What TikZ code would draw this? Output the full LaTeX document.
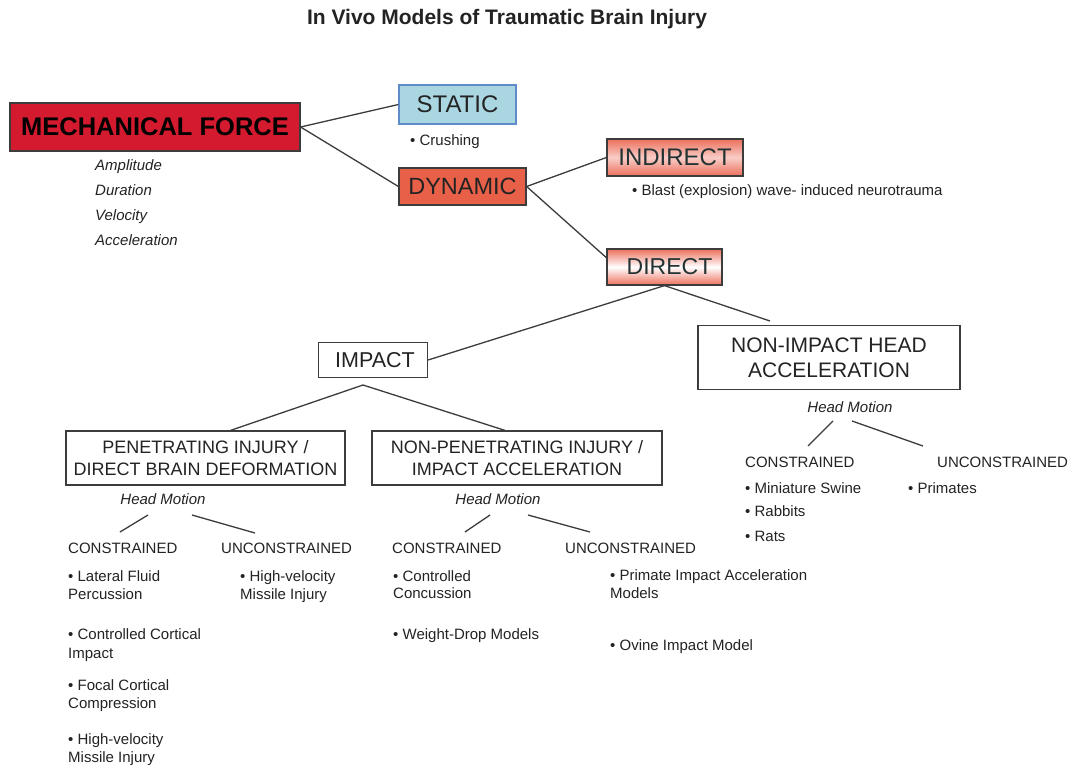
\documentclass[tikz,border=0pt]{standalone}
\usepackage{fontspec}
\setmainfont{Liberation Sans}
\usetikzlibrary{calc}
\definecolor{mfred}{RGB}{212,26,46}
\definecolor{dynred}{RGB}{232,96,72}
\definecolor{statblue}{RGB}{170,214,226}
\definecolor{statedge}{RGB}{95,140,200}
\definecolor{salmon}{RGB}{236,112,92}
\definecolor{linegray}{RGB}{60,60,60}
\definecolor{txt}{RGB}{35,35,35}
\definecolor{txtb}{RGB}{35,50,50}
\tikzset{
  box/.style={draw=linegray, line width=1.2pt, align=center, inner sep=0pt, text=txt},
  conn/.style={draw=linegray, line width=1.3pt},
  item/.style={anchor=base west, inner sep=0pt, font=\fontsize{15}{17}\selectfont, text=txt},
  head/.style={anchor=base, inner sep=0pt, font=\fontsize{15}{17}\selectfont\itshape, text=txt},
  cat/.style={anchor=base west, inner sep=0pt, font=\fontsize{15}{17}\selectfont, text=txt},
  attr/.style={anchor=base west, inner sep=0pt, font=\fontsize{15}{17}\selectfont\itshape, text=txt},
}
\begin{document}
\begin{tikzpicture}[x=1pt,y=-1pt]
\useasboundingbox (0,0) rectangle (1070,765);
\fill[white] (0,0) rectangle (1070,765);
% title
\node[anchor=base, inner sep=0pt, font=\fontsize{21}{24}\selectfont\bfseries, text=txt] (title) at (507,25) {In Vivo Models of Traumatic Brain Injury};
% top level boxes
\node[box, fill=mfred, minimum width=290pt, minimum height=48pt, font=\fontsize{25.5}{28}\selectfont\bfseries, text=black] (mf) at (155,127) {MECHANICAL FORCE};
\node[box, draw=statedge, fill=statblue, minimum width=117pt, minimum height=39pt, font=\fontsize{24}{26}\selectfont] (stat) at (457.5,104.5) {STATIC};
\node[box, fill=dynred, minimum width=127pt, minimum height=37pt, font=\fontsize{23.5}{26}\selectfont] (dyn) at (462.5,186.5) {DYNAMIC};
\node[box, top color=salmon, bottom color=salmon, middle color=salmon!35, minimum width=136pt, minimum height=37pt, font=\fontsize{24}{26}\selectfont, text=txtb] (ind) at (675,157.5) {INDIRECT};
\node[box, top color=salmon, bottom color=salmon, middle color=white, minimum width=115pt, minimum height=36pt, font=\fontsize{23}{26}\selectfont, text=txtb] (dir) at (664.5,267) {\hspace*{10pt}DIRECT};
% attributes
\node[item] (crush) at (410,145) {• Crushing};
\node[attr] (amp) at (95,170) {Amplitude};
\node[attr] (dur) at (95,195) {Duration};
\node[attr] (vel) at (95,220) {Velocity};
\node[attr] (acc) at (95,245) {Acceleration};
\node[item] (blast) at (632,195) {• Blast (explosion) wave- induced neurotrauma};
% second level
\node[box, minimum width=109pt, minimum height=35pt, font=\fontsize{21.5}{23}\selectfont] (imp) at (373,360) {\hspace*{4pt}IMPACT};
\node[box, minimum width=262pt, minimum height=64pt, font=\fontsize{21}{25}\selectfont] (niha) at (829,357.5) {NON-IMPACT HEAD\\ACCELERATION};
\node[box, minimum width=279pt, minimum height=54pt, font=\fontsize{18}{22}\selectfont] (pen) at (205.5,458) {PENETRATING INJURY /\\DIRECT BRAIN DEFORMATION};
\node[box, minimum width=290pt, minimum height=54pt, font=\fontsize{18}{22}\selectfont] (nonpen) at (517,458) {NON-PENETRATING INJURY /\\IMPACT ACCELERATION};
% connectors top
\draw[conn] (mf.east) -- (stat.west);
\draw[conn] (mf.east) -- (dyn.west);
\draw[conn] (dyn.east) -- (ind.west);
\draw[conn] (dyn.east) -- ($(dir.north west)!0.25!(dir.south west)$);
\coordinate (nihaT) at (770,321);
\draw[conn] (dir.south) -- (imp.east);
\draw[conn] (dir.south) -- (nihaT);
\coordinate (impB) at (363,385);
\draw[conn] (impB) -- ($(pen.north)+(25,0)$);
\draw[conn] (impB) -- ($(nonpen.north)+(-12,0)$);
% head motion labels
\node[head] (hm1) at (163,504) {Head Motion};
\node[head] (hm2) at (498,504) {Head Motion};
\node[head] (hm3) at (850,412) {Head Motion};
% category labels
\node[cat] (c1) at (68,553) {CONSTRAINED};
\node[cat] (u1) at (221,553) {UNCONSTRAINED};
\node[cat] (c2) at (392,553) {CONSTRAINED};
\node[cat] (u2) at (565,553) {UNCONSTRAINED};
\node[cat] (c3) at (745,467) {CONSTRAINED};
\node[cat] (u3) at (937,467) {UNCONSTRAINED};
% head motion connectors
\coordinate (h1a) at (148,515); \coordinate (h1b) at (120,532);
\coordinate (h1c) at (192,515); \coordinate (h1d) at (255,533);
\coordinate (h2a) at (490,515); \coordinate (h2b) at (465,532);
\coordinate (h2c) at (528,515); \coordinate (h2d) at (590,532);
\coordinate (h3a) at (833,421); \coordinate (h3b) at (808,446);
\coordinate (h3c) at (852,421); \coordinate (h3d) at (923,446);
\draw[conn] (h1a) -- (h1b); \draw[conn] (h1c) -- (h1d);
\draw[conn] (h2a) -- (h2b); \draw[conn] (h2c) -- (h2d);
\draw[conn] (h3a) -- (h3b); \draw[conn] (h3c) -- (h3d);
% lists
\node[item] (p1) at (68,581) {• Lateral Fluid};
\node[item] (p1b) at (68,599) {Percussion};
\node[item] (p2) at (68,639) {• Controlled Cortical};
\node[item] (p2b) at (68,658) {Impact};
\node[item] (p3) at (68,690) {• Focal Cortical};
\node[item] (p3b) at (68,708) {Compression};
\node[item] (p4) at (68,744) {• High-velocity};
\node[item] (p4b) at (68,762) {Missile Injury};
\node[item] (q1) at (240,581) {• High-velocity};
\node[item] (q1b) at (240,599) {Missile Injury};
\node[item] (r1) at (393,581) {• Controlled};
\node[item] (r1b) at (393,598) {Concussion};
\node[item] (r2) at (393,639) {• Weight-Drop Models};
\node[item] (s1) at (610,580) {• Primate Impact Acceleration};
\node[item] (s1b) at (610,598) {Models};
\node[item] (s2) at (610,650) {• Ovine Impact Model};
\node[item] (t1) at (745,493) {• Miniature Swine};
\node[item] (t2) at (745,516) {• Rabbits};
\node[item] (t3) at (745,541) {• Rats};
\node[item] (v1) at (908,493) {• Primates};
\end{tikzpicture}
\end{document}
